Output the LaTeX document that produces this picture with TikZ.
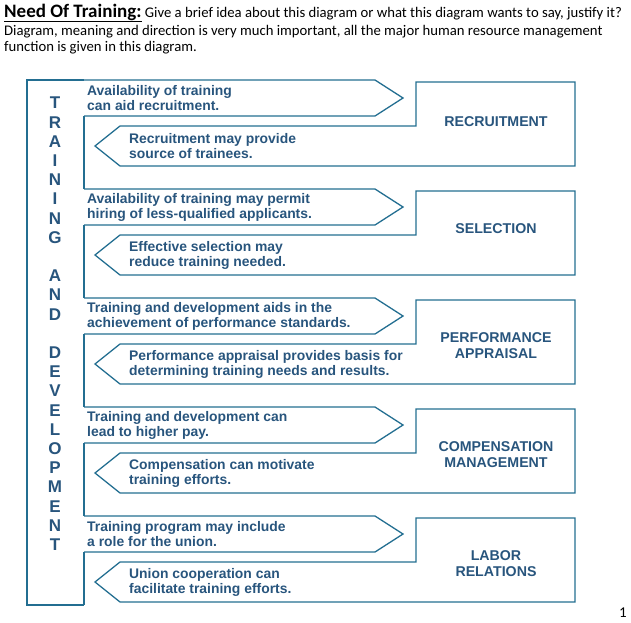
\documentclass[tikz,border=0pt]{standalone}
\usepackage{fontspec}
\setmainfont{Liberation Sans}
\newfontfamily\hdrfont{Carlito}
\definecolor{ln}{RGB}{35,110,145}
\definecolor{tx}{RGB}{40,85,125}
\begin{document}
\begin{tikzpicture}[x=1pt,y=-1pt,
  shp/.style={draw=ln,line width=1.3pt,line join=miter},
  msg/.style={anchor=west,align=left,text=tx,font=\fontsize{13.9}{15}\selectfont\bfseries,inner sep=0pt},
  lbl/.style={align=center,text=tx,font=\fontsize{14.2}{16}\selectfont\bfseries,inner sep=0pt},
  let/.style={text=tx,font=\fontsize{17}{18}\selectfont\bfseries,inner sep=0pt}]
\useasboundingbox (0,0) rectangle (631,622);
% header
\node[anchor=west,inner sep=0pt,font=\hdrfont\fontsize{14.7}{16}\selectfont] (h1) at (4,13) {{\fontsize{19}{20}\selectfont\bfseries\underline{Need Of Training:}} Give a brief idea about this diagram or what this diagram wants to say, justify it?};
\node[anchor=west,inner sep=0pt,font=\hdrfont\fontsize{14.7}{16}\selectfont] (h2) at (4,32) {Diagram, meaning and direction is very much important, all the major human resource management};
\node[anchor=west,inner sep=0pt,font=\hdrfont\fontsize{14.7}{16}\selectfont] (h3) at (4,48) {function is given in this diagram.};
\node[inner sep=0pt,font=\hdrfont\fontsize{15}{16}\selectfont] (pg) at (623,613) {1};
% column outline
\draw[shp] (84,80) -- (27,80) -- (27,605) -- (84,605);
\foreach \i/\yy in {0/80,1/189,2/298,3/407,4/516}{
  \draw[shp] (84,\yy) -- (375,\yy) -- (403,\yy+18) -- (375,\yy+36) -- (84,\yy+36);
  \draw[shp] (375,\yy+46) -- (416,\yy+46) -- (416,\yy+2) -- (575,\yy+2) -- (575,\yy+86) -- (120,\yy+86) -- (95,\yy+66) -- (120,\yy+46) -- (375,\yy+46);
}
\foreach \a/\b in {116/189,225/298,334/407,443/516,552/605}{
  \draw[shp] (84,\a) -- (84,\b);
}
% letters
\foreach \c [count=\k from 0] in {T,R,A,I,N,I,N,G,{},A,N,D,{},D,E,V,E,L,O,P,M,E,N,T}{
  \node[let] (l\k) at (55,103+19.2*\k) {\c};
}
% messages
\node[msg] (r1) at (87,98) {Availability of training\\can aid recruitment.};
\node[msg] (r2) at (129,146) {Recruitment may provide\\source of trainees.};
\node[lbl] (b1) at (496,122) {RECRUITMENT};
\node[msg] (s1) at (87,207) {Availability of training may permit\\hiring of less-qualified applicants.};
\node[msg] (s2) at (129,255) {Effective selection may\\reduce training needed.};
\node[lbl] (b2) at (496,229) {SELECTION};
\node[msg] (p1) at (87,316) {Training and development aids in the\\achievement of performance standards.};
\node[msg] (p2) at (129,364) {Performance appraisal provides basis for\\determining training needs and results.};
\node[lbl] (b3) at (496,346) {PERFORMANCE\\APPRAISAL};
\node[msg] (c1) at (87,425) {Training and development can\\lead to higher pay.};
\node[msg] (c2) at (129,473) {Compensation can motivate\\training efforts.};
\node[lbl] (b4) at (496,455) {COMPENSATION\\MANAGEMENT};
\node[msg] (u1) at (87,534) {Training program may include\\a role for the union.};
\node[msg] (u2) at (129,582) {Union cooperation can\\facilitate training efforts.};
\node[lbl] (b5) at (496,564) {LABOR\\RELATIONS};
\end{tikzpicture}
\end{document}
